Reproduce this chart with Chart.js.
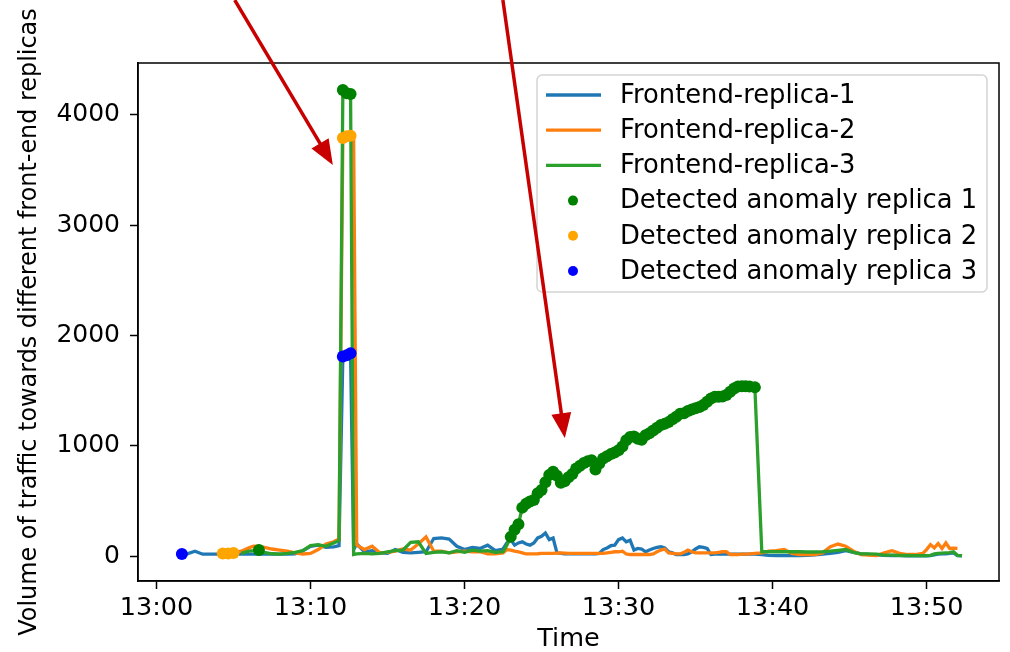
<!DOCTYPE html>
<html><head><meta charset="utf-8">
<script src="https://cdn.jsdelivr.net/npm/chart.js@4.4.1/dist/chart.umd.min.js"></script>
<style>html,body{margin:0;padding:0;background:#fff;}#wrap{width:1010px;height:652px;position:relative;}</style>
</head><body><div id="wrap"><canvas id="c" width="1010" height="652"></canvas></div>
<script>
// minutes after 13:00
const minutes = [1.3, 1.65, 2.0, 2.5, 3.0, 3.5, 4.0, 4.3, 4.65, 5.0,
 5.5, 6.0, 6.3, 6.65, 7.0, 7.5, 8.0, 8.5, 9.0, 9.5,
 10.0, 10.5, 11.0, 11.5, 11.85,
 12.1, 12.35, 12.6, 12.8,
 13.0, 13.5, 14.0, 14.5, 15.0, 15.5, 16.0, 16.5, 17.0, 17.5,
 18.0, 18.5, 19.0, 19.5, 20.0, 20.5, 21.0, 21.5, 22.0, 22.5,
 22.75, 23.0, 23.25, 23.5, 23.75, 24.0, 24.25, 24.5, 24.75, 25.0,
 25.25, 25.5, 25.75, 26.0, 26.25, 26.5, 26.75, 27.0, 27.25, 27.5,
 27.75, 28.0, 28.25, 28.5, 28.75, 29.0, 29.25, 29.5, 29.75, 30.0,
 30.25, 30.5, 30.75, 31.0, 31.25, 31.5, 31.75, 32.0, 32.25, 32.5,
 32.75, 33.0, 33.25, 33.5, 33.75, 34.0, 34.25, 34.5, 34.75, 35.0,
 35.25, 35.5, 35.75, 36.0, 36.25, 36.5, 36.75, 37.0, 37.25, 37.5,
 37.75, 38.0, 38.25, 38.5, 38.85,
 39.3, 39.75, 40.25, 40.75, 41.25, 41.75, 42.25, 42.75, 43.25, 43.75,
 44.25, 44.75, 45.25, 45.75, 46.25, 46.75, 47.25, 47.75, 48.25, 48.75,
 49.25, 49.75, 50.0, 50.25, 50.5, 50.75, 51.0, 51.25, 51.5, 51.75,
 52.0, 52.3];

const replica1 = [20, 20, 22, 45, 18, 18, 18, 18, 18, 18,
 18, 18, 18, 18, 18, 18, 18, 18, 20, 50,
 90, 100, 80, 85, 95,
 1810, 1820, 1840, 60,
 110, 40, 50, 30, 25, 60, 35, 30, 35, 40,
 160, 165, 155, 90, 60, 80, 70, 100, 50, 65,
 120, 150, 100, 120, 130, 110, 100, 120, 165, 180,
 210, 150, 165, 30, 25, 22, 20, 20, 22, 20,
 20, 22, 20, 20, 25, 60, 75, 95, 100, 150,
 165, 130, 145, 55, 70, 65, 40, 55, 70, 80,
 85, 75, 40, 30, 15, 15, 15, 20, 40, 65,
 85, 80, 70, 15, 18, 18, 18, 18, 18, 18,
 18, 18, 18, 18, 18,
 15, 8, 5, 5, 5, 5, 8, 12, 18, 25,
 35, 50, 35, 20, 15, 12, 8, 6, 5, 4,
 4, 4, 4, 5, 12, 18, 20, 22, 25, 30,
 5, 3];

const replica2 = [null, null, null, null, null, null, 25, 25, 25, 28,
 45, 75, 90, 88, 80, 65, 55, 45, 30, 20,
 25, 60, 110, 130, 155,
 3790, 3805, 3810, 3800,
 100, 60, 90, 30, 35, 45, 65, 55, 110, 175,
 45, 45, 30, 40, 45, 40, 40, 20, 20, 30,
 60, 55, 45, 40, 30, 20, 20, 20, 22, 25,
 25, 25, 25, 28, 30, 28, 25, 25, 25, 25,
 25, 25, 25, 25, 25, 25, 30, 35, 40, 40,
 45, 20, 15, 15, 15, 15, 15, 15, 20, 40,
 55, 65, 30, 25, 20, 20, 35, 55, 40, 30,
 30, 30, 30, 30, 30, 35, 40, 40, 15, 15,
 15, 18, 18, 20, 25,
 30, 45, 50, 60, 25, 15, 15, 15, 30, 85,
 110, 90, 45, 15, 10, 5, 30, 50, 25, 15,
 15, 25, 60, 105, 75, 115, 70, 120, 70, 72,
 70, null];

const replica3 = [null, null, null, null, null, null, null, null, null, null,
 25, 45, 50, 57, 35, 22, 18, 25, 35, 50,
 95, 105, 90, 120, 140,
 4225, 4195, 4188, 15,
 20, 25, 20, 25, 40, 50, 55, 125, 130, 25,
 35, 40, 30, 50, 35, 55, 45, 50, 35, 40,
 100, 175, 240, 290, 440, 475, 495, 510, 570, 600,
 670, 735, 765, 730, 665, 680, 715, 745, 795, 820,
 845, 860, 870, 785, 840, 885, 905, 925, 940, 960,
 995, 1050, 1080, 1085, 1065, 1055, 1095, 1115, 1140, 1165,
 1190, 1200, 1215, 1240, 1263, 1290, 1295, 1315, 1330, 1340,
 1352, 1370, 1400, 1430, 1445, 1444, 1448, 1460, 1490, 1520,
 1537, 1541, 1540, 1538, 1530,
 40, 40, 40, 40, 40, 40, 38, 38, 40, 45,
 52, 60, 35, 20, 20, 18, 10, 9, 8, 6,
 5, 5, 5, 8, 20, 25, 28, 30, 32, 40,
 8, 5];

const anomaly1Minutes = [6.65, 12.1, 12.35, 12.6,
 23.0, 23.25, 23.5, 23.75, 24.0, 24.25, 24.5, 24.75, 25.0,
 25.25, 25.5, 25.75, 26.0, 26.25, 26.5, 26.75, 27.0, 27.25, 27.5,
 27.75, 28.0, 28.25, 28.5, 28.75, 29.0, 29.25, 29.5, 29.75, 30.0,
 30.25, 30.5, 30.75, 31.0, 31.25, 31.5, 31.75, 32.0, 32.25, 32.5,
 32.75, 33.0, 33.25, 33.5, 33.75, 34.0, 34.25, 34.5, 34.75, 35.0,
 35.25, 35.5, 35.75, 36.0, 36.25, 36.5, 36.75, 37.0, 37.25, 37.5,
 37.75, 38.0, 38.25, 38.5, 38.85];
const anomaly1Values = [57, 4225, 4195, 4188,
 175, 240, 290, 440, 475, 495, 510, 570, 600,
 670, 735, 765, 730, 665, 680, 715, 745, 795, 820,
 845, 860, 870, 785, 840, 885, 905, 925, 940, 960,
 995, 1050, 1080, 1085, 1065, 1055, 1095, 1115, 1140, 1165,
 1190, 1200, 1215, 1240, 1263, 1290, 1295, 1315, 1330, 1340,
 1352, 1370, 1400, 1430, 1445, 1444, 1448, 1460, 1490, 1520,
 1537, 1541, 1540, 1538, 1530];
const anomaly2Minutes = [4.3, 4.65, 5.0, 12.1, 12.35, 12.6];
const anomaly2Values = [25, 25, 28, 3790, 3805, 3810];
const anomaly3Minutes = [1.65, 12.1, 12.35, 12.6];
const anomaly3Values = [20, 1810, 1820, 1840];

const seriesNames = ['Frontend-replica-1', 'Frontend-replica-2', 'Frontend-replica-3'];
const anomalyNames = ['Detected anomaly replica 1', 'Detected anomaly replica 2', 'Detected anomaly replica 3'];
const xTickMinutes = [0, 10, 20, 30, 40, 50];
const tickLabels = ['13:00', '13:10', '13:20', '13:30', '13:40', '13:50'];
const yTickValues = [0, 1000, 2000, 3000, 4000];
const xTitle = 'Time';
const yTitle = 'Volume of traffic towards different front-end replicas';
// annotation arrows in data coordinates: [tailX, tailY, tipX, tipY]
const arrows = [[5.08, 5040, 11.45, 3546], [22.49, 5040, 26.51, 1070]];

const FONT = 'DejaVu Sans';
Chart.defaults.font.family = FONT;
Chart.defaults.color = '#000';
const LW = 3.3;

const toPts = (xs, ys) => xs.map((x, i) => ({x: x, y: ys[i]}));

const overlay = {
  id: 'overlay',
  afterDatasetsDraw(chart) {
    const {ctx, chartArea: ca} = chart;
    ctx.save();
    ctx.strokeStyle = '#000';
    ctx.lineWidth = 1.5;
    ctx.strokeRect(ca.left, ca.top, ca.right - ca.left, ca.bottom - ca.top);
    ctx.restore();
  },
  afterDraw(chart) {
    const {ctx, chartArea: ca} = chart;
    const ds = chart.data.datasets;
    // legend
    ctx.save();
    const bw = 450, bh = 217;
    const bx = ca.right - 12 - bw, by = ca.top + 12;
    ctx.beginPath();
    ctx.roundRect(bx, by, bw, bh, 5);
    ctx.fillStyle = 'rgba(255,255,255,0.8)';
    ctx.fill();
    ctx.strokeStyle = '#d4d4d4';
    ctx.lineWidth = 1.5;
    ctx.stroke();
    ctx.font = '25.8px "' + FONT + '"';
    ctx.textBaseline = 'middle';
    ctx.textAlign = 'left';
    ds.forEach((d, i) => {
      const cy = by + 20 + i * 35.2;
      if (d.showLine === false) {
        ctx.beginPath();
        ctx.arc(bx + 36, cy, 5, 0, Math.PI * 2);
        ctx.fillStyle = d.backgroundColor;
        ctx.fill();
      } else {
        ctx.beginPath();
        ctx.moveTo(bx + 9, cy);
        ctx.lineTo(bx + 64, cy);
        ctx.strokeStyle = d.borderColor;
        ctx.lineWidth = LW;
        ctx.stroke();
      }
      ctx.fillStyle = '#000';
      ctx.fillText(d.label, bx + 83, cy + 1);
    });
    // arrows
    const xs = chart.scales.x, ys = chart.scales.y;
    ctx.strokeStyle = '#c80000';
    ctx.fillStyle = '#c80000';
    ctx.lineWidth = 3.5;
    arrows.forEach(a => {
      const x0 = xs.getPixelForValue(a[0]), y0 = ys.getPixelForValue(a[1]);
      const x1 = xs.getPixelForValue(a[2]), y1 = ys.getPixelForValue(a[3]);
      const dx = x1 - x0, dy = y1 - y0, L = Math.hypot(dx, dy);
      const ux = dx / L, uy = dy / L;
      const hl = 25, hw = 10;
      const bxp = x1 - ux * hl, byp = y1 - uy * hl;
      ctx.beginPath();
      ctx.moveTo(x0, y0);
      ctx.lineTo(bxp + ux * 2, byp + uy * 2);
      ctx.stroke();
      ctx.beginPath();
      ctx.moveTo(x1, y1);
      ctx.lineTo(bxp - uy * hw, byp + ux * hw);
      ctx.lineTo(bxp + uy * hw, byp - ux * hw);
      ctx.closePath();
      ctx.fill();
    });
    ctx.restore();
  }
};

const lineDs = (label, values, color, order) => ({
  label: label, data: toPts(minutes, values), borderColor: color, backgroundColor: color,
  borderWidth: LW, pointRadius: 0, pointHoverRadius: 0, tension: 0, fill: false, spanGaps: false, order: order
});
const dotDs = (label, xs, ys, color, order) => ({
  type: 'scatter', label: label, data: toPts(xs, ys), backgroundColor: color, borderColor: color,
  borderWidth: 0, pointRadius: 6, pointHoverRadius: 6, showLine: false, order: order
});

const axisCommon = {
  grid: {drawOnChartArea: false, drawTicks: true, tickLength: 8, tickWidth: 1.5, tickColor: '#000'},
  border: {display: true, color: '#000', width: 1.5}
};

new Chart(document.getElementById('c'), {
  type: 'line',
  data: {
    datasets: [
      lineDs(seriesNames[0], replica1, '#1f77b4', 6),
      lineDs(seriesNames[1], replica2, '#ff7f0e', 5),
      lineDs(seriesNames[2], replica3, '#2ca02c', 4),
      dotDs(anomalyNames[0], anomaly1Minutes, anomaly1Values, 'green', 3),
      dotDs(anomalyNames[1], anomaly2Minutes, anomaly2Values, 'orange', 2),
      dotDs(anomalyNames[2], anomaly3Minutes, anomaly3Values, 'blue', 1)
    ]
  },
  options: {
    responsive: false, animation: false, devicePixelRatio: 1,
    layout: {padding: {top: 63, right: 11, left: 0, bottom: 0}},
    plugins: {legend: {display: false}, tooltip: {enabled: false}},
    scales: {
      x: Object.assign({}, axisCommon, {
        type: 'linear', min: -1.2, max: 54.7,
        afterFit(s) { s.height = 71; },
        afterBuildTicks(s) { s.ticks = xTickMinutes.map(v => ({value: v})); },
        ticks: {padding: 4, maxRotation: 0, minRotation: 0, autoSkip: false,
          color: '#000', font: {size: 25.5},
          callback: v => tickLabels[xTickMinutes.indexOf(v)] || ''},
        title: {display: true, text: xTitle, color: '#000', font: {size: 25.5, lineHeight: 1}, padding: {top: 0, bottom: 0}}
      }),
      y: Object.assign({}, axisCommon, {
        type: 'linear', min: -225, max: 4470,
        afterFit(s) { s.width = 138; },
        afterBuildTicks(s) { s.ticks = yTickValues.map(v => ({value: v})); },
        ticks: {padding: 10, autoSkip: false, color: '#000', font: {size: 25},
          callback: v => String(v)},
        title: {display: true, text: yTitle, color: '#000', font: {size: 23.9, lineHeight: 1}, padding: {top: 18, bottom: 0}}
      })
    }
  },
  plugins: [overlay]
});
</script></body></html>
